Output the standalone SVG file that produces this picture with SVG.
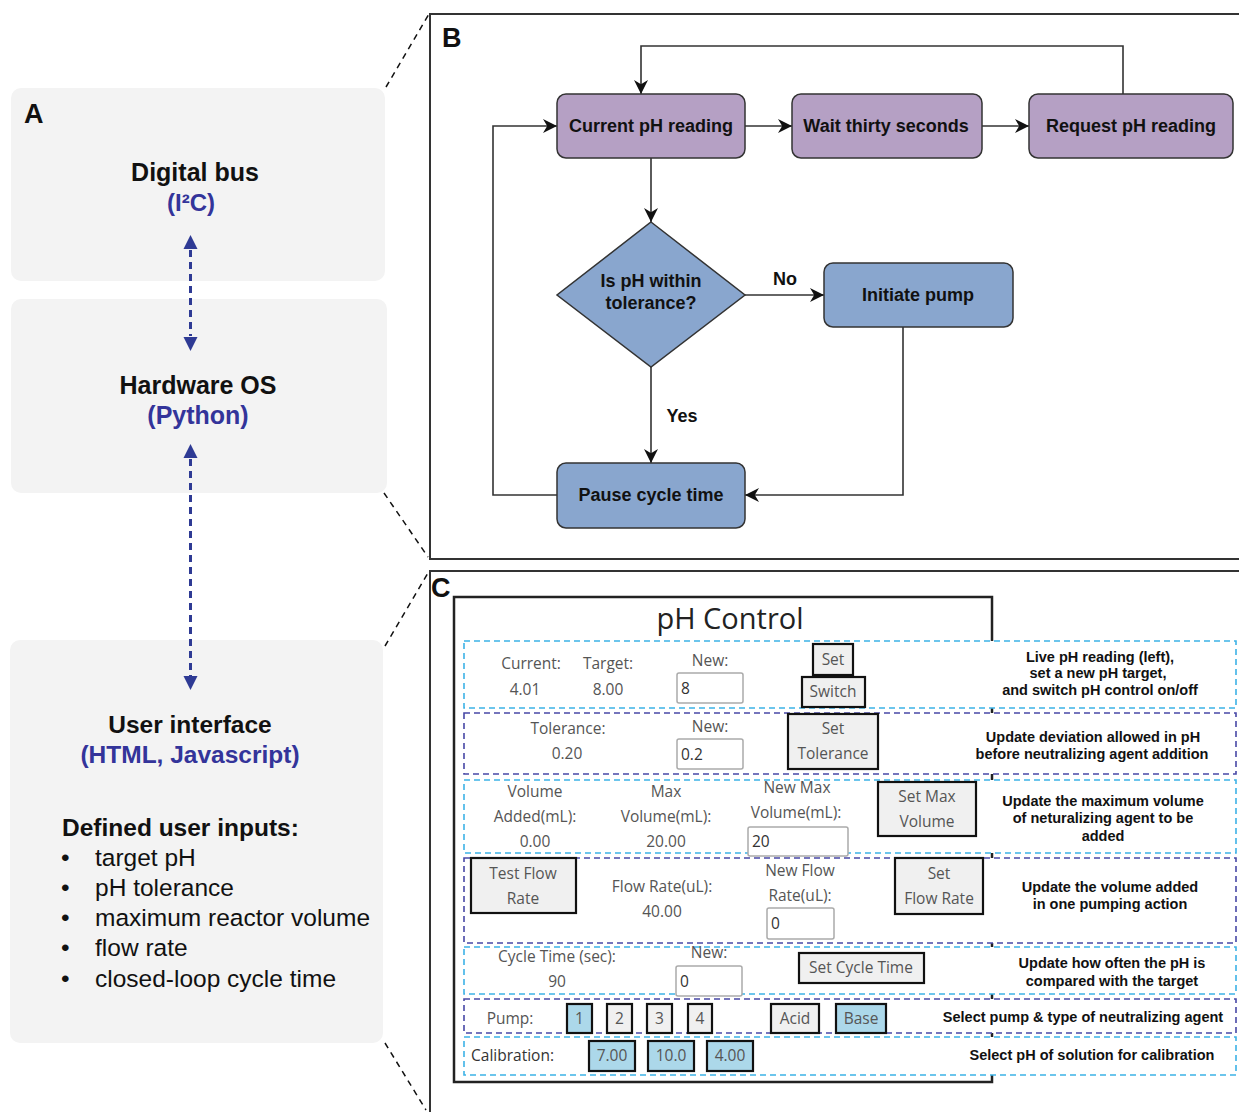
<svg xmlns="http://www.w3.org/2000/svg" width="1239" height="1112" viewBox="0 0 1239 1112">
<style>
.abox{fill:#f3f3f3;stroke:none}
.ah{font-family:"Liberation Sans",Arial,sans-serif;font-weight:bold;fill:#111;text-anchor:middle}
.ab{font-family:"Liberation Sans",Arial,sans-serif;font-weight:bold;fill:#33349a;text-anchor:middle}
.al{font-family:"Liberation Sans",Arial,sans-serif;font-size:24.5px;fill:#111}
.lbl{font-family:"Liberation Sans",Arial,sans-serif;font-weight:bold;font-size:27px;fill:#111}
.call{stroke:#111;stroke-width:1.5;stroke-dasharray:6 5;fill:none}
.panel{stroke:#333;stroke-width:2;fill:none}
.pur{fill:#b5a0c4;stroke:#333;stroke-width:1.5}
.blu{fill:#89a6ce;stroke:#333;stroke-width:1.5}
.ft{font-family:"Liberation Sans",Arial,sans-serif;font-weight:bold;font-size:18px;fill:#111;text-anchor:middle}
.conn{stroke:#333;stroke-width:1.6;fill:none}
.da{stroke:#2e3a94;stroke-width:3;stroke-dasharray:7 5;fill:none}
.win{fill:#fff;stroke:#222;stroke-width:2.5}
.rowL{fill:#fff;stroke:#3cb2e6;stroke-width:1.6;stroke-dasharray:6 4}
.rowD{fill:#fff;stroke:#4848a6;stroke-width:1.6;stroke-dasharray:6 4}
.ui{font-family:"Open Sans","Noto Sans",sans-serif;font-size:15.5px;fill:#555;text-anchor:middle}
.uil{font-family:"Open Sans","Noto Sans",sans-serif;font-size:15.5px;fill:#333}
.btn{fill:#f0f0f0;stroke:#111;stroke-width:2.2}
.btnB{fill:#acd8ea;stroke:#111;stroke-width:2.2}
.inp{fill:#fff;stroke:#aaa;stroke-width:1.5}
.desc{font-family:"Liberation Sans",Arial,sans-serif;font-weight:bold;font-size:14.5px;fill:#111;text-anchor:middle}
</style>
<defs>
<marker id="arr" viewBox="0 0 10 10" refX="10" refY="5" markerWidth="15" markerHeight="14" markerUnits="userSpaceOnUse" orient="auto">
<path d="M0,0 L10,5 L0,10 L3,5 z" fill="#111"/>
</marker>
</defs>
<rect width="1239" height="1112" fill="#fff"/>

<!-- Panel A -->
<g id="panelA">
<g id="a-digital-bus">
<rect class="abox" x="11" y="88" width="374" height="193" rx="10"/>
<text class="lbl" x="24" y="123">A</text>
<text class="ah" x="195" y="181" font-size="25">Digital bus</text>
<text class="ab" x="191" y="211" font-size="24">(I²C)</text>
</g>
<g id="a-hardware-os">
<rect class="abox" x="11" y="299" width="376" height="194" rx="10"/>
<text class="ah" x="198" y="394" font-size="25">Hardware OS</text>
<text class="ab" x="198" y="424" font-size="25">(Python)</text>
</g>
<g id="a-user-interface">
<rect class="abox" x="10" y="640" width="373" height="403" rx="10"/>
<text class="ah" x="190" y="733" font-size="24.5">User interface</text>
<text class="ab" x="190" y="763" font-size="24.5">(HTML, Javascript)</text>
<text class="al" x="62" y="836" font-weight="bold">Defined user inputs:</text>
<text class="al" x="61" y="866">•</text><text class="al" x="95" y="866">target pH</text>
<text class="al" x="61" y="896">•</text><text class="al" x="95" y="896">pH tolerance</text>
<text class="al" x="61" y="926">•</text><text class="al" x="95" y="926">maximum reactor volume</text>
<text class="al" x="61" y="956">•</text><text class="al" x="95" y="956">flow rate</text>
<text class="al" x="61" y="987">•</text><text class="al" x="95" y="987">closed-loop cycle time</text>
</g>
</g>

<g id="a-connectors">
<line class="da" x1="190.5" y1="250" x2="190.5" y2="336"/>
<path d="M190.5,235 L183.5,249 L197.5,249 z" fill="#2e3a94"/>
<path d="M190.5,351 L183.5,337 L197.5,337 z" fill="#2e3a94"/>
<line class="da" x1="190.5" y1="459" x2="190.5" y2="676"/>
<path d="M190.5,444 L183.5,458 L197.5,458 z" fill="#2e3a94"/>
<path d="M190.5,690 L183.5,676 L197.5,676 z" fill="#2e3a94"/>
</g>

<g id="callouts">
<line class="call" x1="386" y1="87" x2="429" y2="14"/>
<line class="call" x1="384" y1="493" x2="428" y2="557"/>
<line class="call" x1="385" y1="646" x2="428" y2="573"/>
<line class="call" x1="385" y1="1043" x2="426" y2="1110"/>
</g>

<!-- Panel B -->
<g id="panelB-frame">
<path class="panel" d="M1239,14 L430,14 L430,559 L1239,559"/>
<text class="lbl" x="442" y="47" font-size="26">B</text>
</g>
<g id="b-connectors">
<path class="conn" d="M1123,94 L1123,46 L641,46 L641,94" marker-end="url(#arr)"/>
<line class="conn" x1="745" y1="126" x2="792" y2="126" marker-end="url(#arr)"/>
<line class="conn" x1="982" y1="126" x2="1029" y2="126" marker-end="url(#arr)"/>
<line class="conn" x1="651" y1="158" x2="651" y2="222" marker-end="url(#arr)"/>
<line class="conn" x1="745" y1="295" x2="824" y2="295" marker-end="url(#arr)"/>
<text class="ft" x="785" y="285">No</text>
<line class="conn" x1="651" y1="367" x2="651" y2="463" marker-end="url(#arr)"/>
<text class="ft" x="682" y="422">Yes</text>
<path class="conn" d="M903,327 L903,495 L745,495" marker-end="url(#arr)"/>
<path class="conn" d="M557,495 L493,495 L493,126 L557,126" marker-end="url(#arr)"/>
</g>
<g id="b-current">
<rect class="pur" x="557" y="94" width="188" height="64" rx="9"/>
<text class="ft" x="651" y="132">Current pH reading</text>
</g>
<g id="b-wait">
<rect class="pur" x="792" y="94" width="190" height="64" rx="9"/>
<text class="ft" x="886" y="132">Wait thirty seconds</text>
</g>
<g id="b-request">
<rect class="pur" x="1029" y="94" width="204" height="64" rx="9"/>
<text class="ft" x="1131" y="132">Request pH reading</text>
</g>
<g id="b-decision">
<polygon class="blu" points="651,222 745,295 651,367 557,295"/>
<text class="ft" x="651" y="287">Is pH within</text>
<text class="ft" x="651" y="309">tolerance?</text>
</g>
<g id="b-initiate">
<rect class="blu" x="824" y="263" width="189" height="64" rx="9"/>
<text class="ft" x="918" y="301">Initiate pump</text>
</g>
<g id="b-pause">
<rect class="blu" x="557" y="463" width="188" height="65" rx="9"/>
<text class="ft" x="651" y="501">Pause cycle time</text>
</g>

<!-- Panel C -->
<g id="panelC-frame">
<path class="panel" d="M1239,571 L430,571 L430,1112"/>
<text class="lbl" x="431" y="597" font-size="26">C</text>
</g>
<g id="c-window">
<rect class="win" x="454" y="597" width="538" height="485"/>
<text x="730" y="629" font-family="'Open Sans','Noto Sans',sans-serif" font-size="29" fill="#222" text-anchor="middle">pH Control</text>
</g>

<g id="c-row1">
<rect class="rowL" x="464" y="641" width="772" height="67"/>
<text class="ui" x="531" y="669">Current:</text>
<text class="ui" x="525" y="695">4.01</text>
<text class="ui" x="608" y="669">Target:</text>
<text class="ui" x="608" y="695">8.00</text>
<text class="ui" x="710" y="666">New:</text>
<rect class="inp" x="677" y="673" width="66" height="30" rx="2"/>
<text class="uil" x="681" y="694">8</text>
<rect class="btn" x="813" y="644" width="40" height="31"/>
<text class="ui" x="833" y="665">Set</text>
<rect class="btn" x="802" y="677" width="63" height="30"/>
<text class="ui" x="833" y="697">Switch</text>
<text class="desc" x="1100" y="662">Live pH reading (left),</text>
<text class="desc" x="1098" y="678">set a new pH target,</text>
<text class="desc" x="1100" y="695">and switch pH control on/off</text>
</g>

<g id="c-row2">
<rect class="rowD" x="464" y="713" width="772" height="61"/>
<text class="ui" x="568" y="734">Tolerance:</text>
<text class="ui" x="567" y="759">0.20</text>
<text class="ui" x="710" y="732">New:</text>
<rect class="inp" x="677" y="739" width="66" height="30" rx="2"/>
<text class="uil" x="681" y="760">0.2</text>
<rect class="btn" x="788" y="714" width="90" height="55"/>
<text class="ui" x="833" y="734">Set</text>
<text class="ui" x="833" y="759">Tolerance</text>
<text class="desc" x="1093" y="742">Update deviation allowed in pH</text>
<text class="desc" x="1092" y="759">before neutralizing agent addition</text>
</g>

<g id="c-row3">
<rect class="rowL" x="464" y="780" width="772" height="73"/>
<text class="ui" x="535" y="797">Volume</text>
<text class="ui" x="535" y="822">Added(mL):</text>
<text class="ui" x="535" y="847">0.00</text>
<text class="ui" x="666" y="797">Max</text>
<text class="ui" x="666" y="822">Volume(mL):</text>
<text class="ui" x="666" y="847">20.00</text>
<text class="ui" x="797" y="793">New Max</text>
<text class="ui" x="796" y="818">Volume(mL):</text>
<rect class="inp" x="748" y="827" width="100" height="29" rx="2"/>
<text class="uil" x="752" y="847">20</text>
<rect class="btn" x="878" y="782" width="98" height="54"/>
<text class="ui" x="927" y="802">Set Max</text>
<text class="ui" x="927" y="827">Volume</text>
<text class="desc" x="1103" y="806">Update the maximum volume</text>
<text class="desc" x="1103" y="823">of neturalizing agent to be</text>
<text class="desc" x="1103" y="841">added</text>
</g>

<g id="c-row4">
<rect class="rowD" x="464" y="858" width="772" height="85"/>
<rect class="btn" x="471" y="858" width="105" height="55"/>
<text class="ui" x="523" y="879">Test Flow</text>
<text class="ui" x="523" y="904">Rate</text>
<text class="ui" x="662" y="892">Flow Rate(uL):</text>
<text class="ui" x="662" y="917">40.00</text>
<text class="ui" x="800" y="876">New Flow</text>
<text class="ui" x="800" y="901">Rate(uL):</text>
<rect class="inp" x="767" y="908" width="67" height="31" rx="2"/>
<text class="uil" x="771" y="929">0</text>
<rect class="btn" x="895" y="858" width="88" height="56"/>
<text class="ui" x="939" y="879">Set</text>
<text class="ui" x="939" y="904">Flow Rate</text>
<text class="desc" x="1110" y="892">Update the volume added</text>
<text class="desc" x="1110" y="909">in one pumping action</text>
</g>

<g id="c-row5">
<rect class="rowL" x="464" y="947" width="772" height="47"/>
<text class="ui" x="557" y="962">Cycle Time (sec):</text>
<text class="ui" x="557" y="987">90</text>
<text class="ui" x="709" y="958">New:</text>
<rect class="inp" x="676" y="966" width="66" height="30" rx="2"/>
<text class="uil" x="680" y="987">0</text>
<rect class="btn" x="799" y="953" width="125" height="30"/>
<text class="ui" x="861" y="973">Set Cycle Time</text>
<text class="desc" x="1112" y="968">Update how often the pH is</text>
<text class="desc" x="1112" y="986">compared with the target</text>
</g>

<g id="c-row6">
<rect class="rowD" x="464" y="999" width="772" height="34"/>
<text class="ui" x="510" y="1024">Pump:</text>
<rect class="btnB" x="567" y="1004" width="25" height="29"/>
<text class="ui" x="579.5" y="1024">1</text>
<rect class="btn" x="607" y="1004" width="25" height="29"/>
<text class="ui" x="619.5" y="1024">2</text>
<rect class="btn" x="647" y="1004" width="25" height="29"/>
<text class="ui" x="659.5" y="1024">3</text>
<rect class="btn" x="688" y="1004" width="24" height="29"/>
<text class="ui" x="700" y="1024">4</text>
<rect class="btn" x="771" y="1004" width="48" height="29"/>
<text class="ui" x="795" y="1024">Acid</text>
<rect class="btnB" x="836" y="1004" width="50" height="29"/>
<text class="ui" x="861" y="1024">Base</text>
<text class="desc" x="1083" y="1022">Select pump &amp; type of neutralizing agent</text>
</g>

<g id="c-row7">
<rect class="rowL" x="464" y="1037" width="772" height="38"/>
<text class="uil" x="471" y="1061" fill="#555">Calibration:</text>
<rect class="btnB" x="589" y="1041" width="46" height="30"/>
<text class="ui" x="612" y="1061">7.00</text>
<rect class="btnB" x="648" y="1041" width="46" height="30"/>
<text class="ui" x="671" y="1061">10.0</text>
<rect class="btnB" x="707" y="1041" width="46" height="30"/>
<text class="ui" x="730" y="1061">4.00</text>
<text class="desc" x="1092" y="1060">Select pH of solution for calibration</text>
</g>
</svg>
